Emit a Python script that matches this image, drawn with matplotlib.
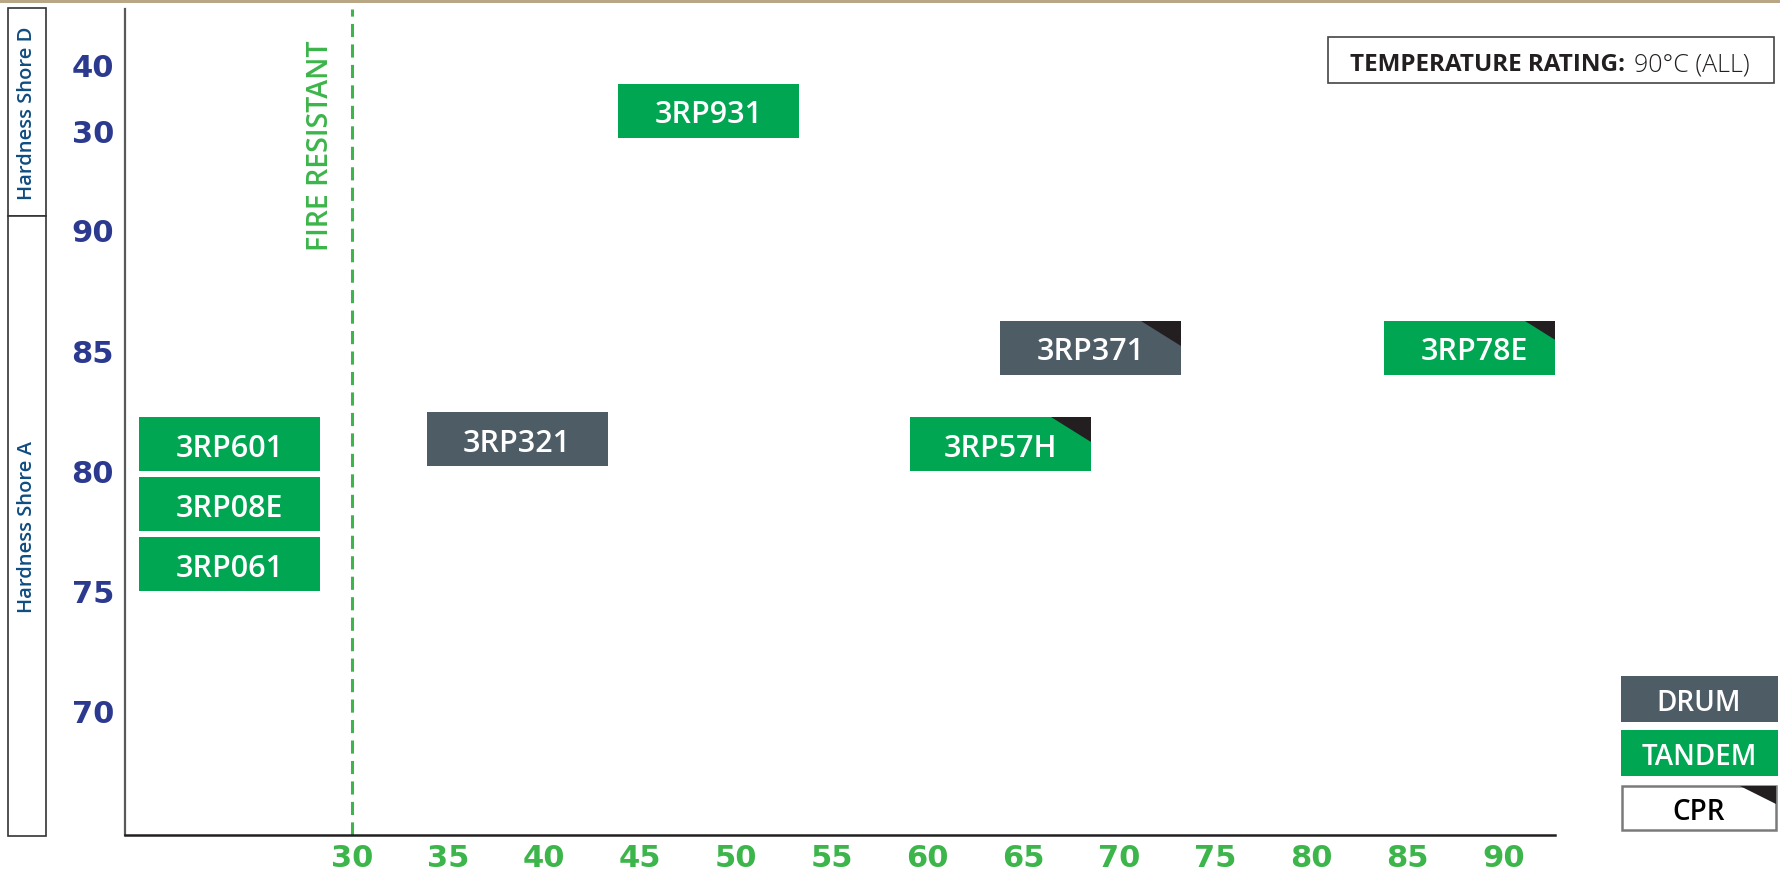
import matplotlib
matplotlib.use('Agg')
import matplotlib.pyplot as plt
from matplotlib.patches import Rectangle, Polygon

plt.rcParams['font.family'] = ['Open Sans', 'DejaVu Sans']

# product boxes
products = ['3RP601', '3RP08E', '3RP061', '3RP321', '3RP931', '3RP57H', '3RP371', '3RP78E']
kinds = ['TANDEM', 'TANDEM', 'TANDEM', 'DRUM', 'TANDEM', 'TANDEM', 'DRUM', 'TANDEM']
is_cpr = [False, False, False, False, False, True, True, True]
x_vals = [23.6, 23.6, 23.6, 38.6, 48.6, 63.8, 68.5, 88.5]
hardness = [81.1, 78.6, 76.1, 81.3, 33.0, 81.1, 85.1, 85.1]
scales = ['A', 'A', 'A', 'A', 'D', 'A', 'A', 'A']

x_ticks = [30, 35, 40, 45, 50, 55, 60, 65, 70, 75, 80, 85, 90]
shore_a_ticks = [70, 75, 80, 85, 90]
shore_d_ticks = [30, 40]
fire_resistant_x = 30

GREEN = '#00a651'
DRUM = '#4e5d65'
CORNER = '#231f20'
TICK_GREEN = '#3cb54a'
NAVY = '#2b3a8f'
LABEL_BLUE = '#0f4c81'
kind_color = {'TANDEM': GREEN, 'DRUM': DRUM}

# shore D sits above shore A on its own compressed scale
D_BASE = 94.12
D_STEP = 0.278


def to_axis(v, scale):
    if scale == 'A':
        return v
    return D_BASE + (v - 30) * D_STEP


BOX_W = 9.43
BOX_H = 2.24

fig = plt.figure(figsize=(17.8, 8.78), dpi=100, facecolor='white')
ax = fig.add_axes([125 / 1780, 42 / 878, 1430 / 1780, 826 / 878])
ax.patch.set_visible(False)
ax.set_xlim(18.17, 92.69)
ax.set_ylim(64.84, 99.19)

for s in ['top', 'right']:
    ax.spines[s].set_visible(False)
ax.spines['left'].set_color('#58595b')
ax.spines['left'].set_linewidth(1.6)
ax.spines['bottom'].set_color('#231f20')
ax.spines['bottom'].set_linewidth(1.8)

ax.set_xticks(x_ticks)
ax.set_xticklabels([str(t) for t in x_ticks])
yt = [to_axis(v, 'A') for v in shore_a_ticks] + [to_axis(v, 'D') for v in shore_d_ticks]
ax.set_yticks(yt)
ax.set_yticklabels([str(v) for v in shore_a_ticks + shore_d_ticks])
ax.tick_params(axis='x', length=0, pad=6, labelcolor=TICK_GREEN)
ax.tick_params(axis='y', length=0, pad=8, labelcolor=NAVY)
for lab in ax.get_xticklabels() + ax.get_yticklabels():
    lab.set_fontfamily('DejaVu Sans')
    lab.set_fontweight('bold')
    lab.set_fontsize(22)

# fire resistant line
ax.axvline(fire_resistant_x, color=TICK_GREEN, lw=2.2, dashes=(4.3, 2.4), zorder=1)
ax.text(fire_resistant_x - 1.62, 97.94, 'FIRE RESISTANT', rotation=90, ha='center', va='top',
        color=TICK_GREEN, fontsize=20.5, fontweight='semibold')

for name, kind, cpr, xv, hv, sc in zip(products, kinds, is_cpr, x_vals, hardness, scales):
    yc = to_axis(hv, sc)
    x0, y0 = xv - BOX_W / 2, yc - BOX_H / 2
    ax.add_patch(Rectangle((x0, y0), BOX_W, BOX_H, facecolor=kind_color[kind], edgecolor='none', zorder=3))
    if cpr:
        ax.add_patch(Polygon([(x0 + BOX_W * 0.78, y0 + BOX_H), (x0 + BOX_W, y0 + BOX_H),
                              (x0 + BOX_W, y0 + BOX_H * 0.54)], closed=True,
                             facecolor=CORNER, edgecolor='none', zorder=4))
    ax.text(xv, yc, name, ha='center', va='center_baseline', color='white',
            fontsize=22, fontweight='semibold', zorder=5)

# overlay in pixel coordinates for the frame pieces
ov = fig.add_axes([0, 0, 1, 1], zorder=10)
ov.set_xlim(0, 1780)
ov.set_ylim(878, 0)
ov.axis('off')

ov.add_patch(Rectangle((0, 0), 1780, 4, facecolor='#b8a684', edgecolor='none'))

# hardness scale labels on the left
ov.add_patch(Rectangle((8, 9), 38, 208, facecolor='white', edgecolor='#333333', lw=1.2))
ov.add_patch(Rectangle((8, 217), 38, 620, facecolor='white', edgecolor='#333333', lw=1.2))
ov.text(27, 113, 'Hardness Shore D', rotation=90, ha='center', va='center',
        color=LABEL_BLUE, fontsize=14.5, fontweight='semibold')
ov.text(27, 527, 'Hardness Shore A', rotation=90, ha='center', va='center',
        color=LABEL_BLUE, fontsize=14.5, fontweight='semibold')

# temperature rating box
ov.add_patch(Rectangle((1328, 38), 446, 46, facecolor='white', edgecolor='#444444', lw=1.2))
ov.text(1350, 62, 'TEMPERATURE RATING:', ha='left', va='center_baseline', color='#231f20',
        fontsize=17.5, fontweight='bold')
ov.text(1634, 62, '90°C (ALL)', ha='left', va='center_baseline', color='#231f20',
        fontsize=18, fontweight='light')

# legend
ov.add_patch(Rectangle((1621, 677), 157, 46, facecolor=DRUM, edgecolor='none'))
ov.text(1699, 700, 'DRUM', ha='center', va='center_baseline', color='white', fontsize=20, fontweight='semibold')
ov.add_patch(Rectangle((1621, 731), 157, 46, facecolor=GREEN, edgecolor='none'))
ov.text(1699, 754, 'TANDEM', ha='center', va='center_baseline', color='white', fontsize=20, fontweight='semibold')
ov.add_patch(Rectangle((1622, 787), 154, 44, facecolor='white', edgecolor='#7a7a7a', lw=1.8))
ov.add_patch(Polygon([(1740, 787), (1776, 787), (1776, 805)], closed=True, facecolor=CORNER, edgecolor='none'))
ov.text(1699, 809, 'CPR', ha='center', va='center_baseline', color='black', fontsize=20, fontweight='semibold')

fig.savefig('out.png', dpi=100)
